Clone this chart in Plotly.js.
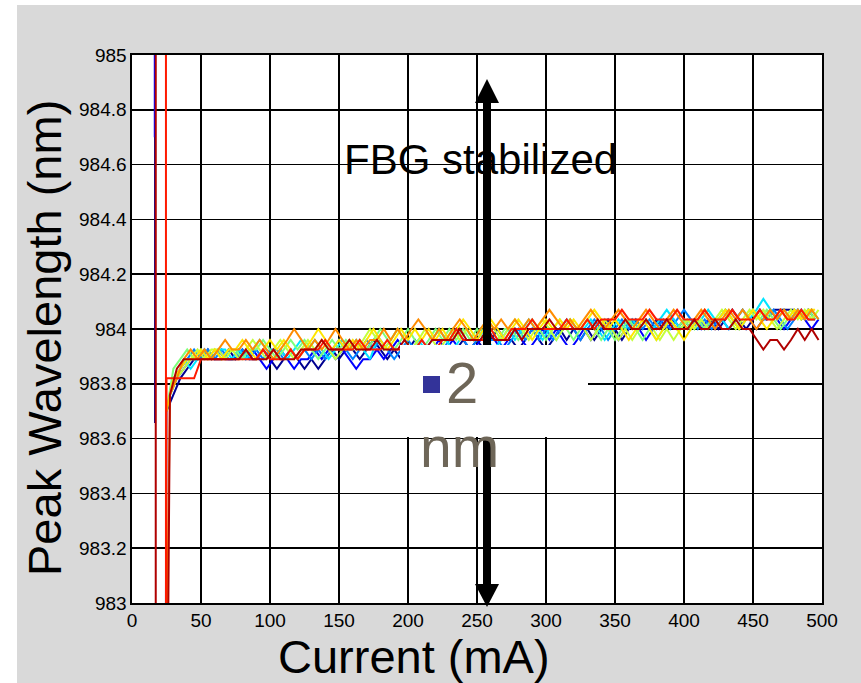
<!DOCTYPE html>
<html>
<head>
<meta charset="utf-8">
<script src="https://cdn.plot.ly/plotly-3.0.1.min.js"></script>
<style>
html,body{margin:0;padding:0;background:#ffffff;width:861px;height:683px;overflow:hidden;}
#chart{position:absolute;left:17px;top:5px;width:844px;height:678px;}
</style>
</head>
<body>
<div id="chart"></div>
<script>
// Drive current (mA): two sampling grids used by the different runs
const currentA = [25,30,35,40,45,50,55,60,65,70,75,80,85,90,95,100,105,110,115,120,125,130,135,140,145,150,155,160,165,170,175,180,185,190,195,200,205,210,215,220,225,230,235,240,245,250,255,260,265,270,275,280,285,290,295,300,305,310,315,320,325,330,335,340,345,350,355,360,365,370,375,380,385,390,395,400,405,410,415,420,425,430,435,440,445,450,455,460,465,470,475,480,485,490,495];
const currentB = [27.5,32.5,37.5,42.5,47.5,52.5,57.5,62.5,67.5,72.5,77.5,82.5,87.5,92.5,97.5,102.5,107.5,112.5,117.5,122.5,127.5,132.5,137.5,142.5,147.5,152.5,157.5,162.5,167.5,172.5,177.5,182.5,187.5,192.5,197.5,202.5,207.5,212.5,217.5,222.5,227.5,232.5,237.5,242.5,247.5,252.5,257.5,262.5,267.5,272.5,277.5,282.5,287.5,292.5,297.5,302.5,307.5,312.5,317.5,322.5,327.5,332.5,337.5,342.5,347.5,352.5,357.5,362.5,367.5,372.5,377.5,382.5,387.5,392.5,397.5,402.5,407.5,412.5,417.5,422.5,427.5,432.5,437.5,442.5,447.5,452.5,457.5,462.5,467.5,472.5,477.5,482.5,487.5,492.5,497.5];

// Below-threshold points of each series (current, wavelength)
const lead1X = [16.7,16.7,16.8], lead1Y = [986,983.657,null];
const lead2X = [16.5,16.5,16.6], lead2Y = [986,984.7,null];
const lead3X = [24.3], lead3Y = [982.5];
const lead8X = [24.4], lead8Y = [982.5];
const lead9X = [24.6,24.6], lead9Y = [986,982];
const lead10X = [17.2,17.2,24.8], lead10Y = [986,982,982];

// Peak wavelength (nm) of each series
const wl1 = [983.70,983.76,983.82,983.855,983.89,983.89,983.925,983.89,983.89,983.925,
983.89,983.925,983.89,983.89,983.925,983.89,983.855,983.89,983.925,983.89,
983.855,983.89,983.855,983.89,983.925,983.89,983.925,983.925,983.89,983.925,
983.96,983.925,983.89,983.925,983.89,983.925,983.96,983.925,983.89,983.89,
983.925,983.89,983.925,983.96,983.925,983.96,983.925,983.96,984.00,983.96,
983.96,983.925,983.96,984.00,983.96,983.925,983.96,984.00,983.96,984.00,
983.96,984.00,983.96,984.00,984.035,984.00,983.96,984.00,984.035,984.00,
984.00,984.035,984.00,984.035,984.00,984.035,984.00,984.035,984.00,984.035,
984.00,984.035,984.07,984.035,984.00,984.035,984.07,984.035,984.07,984.07,
984.07,984.07,984.035,984.07,984.035];
const wl2 = [983.76,983.82,983.855,983.89,983.89,983.925,983.89,983.925,983.89,983.89,
983.925,983.89,983.925,983.89,983.855,983.89,983.925,983.89,983.855,983.89,
983.89,983.925,983.89,983.925,983.89,983.925,983.89,983.855,983.89,983.89,
983.925,983.89,983.925,983.96,983.925,983.89,983.925,983.89,983.925,983.96,
983.925,983.96,983.925,983.89,983.925,983.96,984.00,983.96,983.925,983.96,
984.00,983.96,983.925,983.96,984.00,983.96,984.00,983.96,983.925,983.96,
984.00,983.96,984.00,984.035,984.00,983.96,984.00,984.035,984.00,983.96,
984.00,984.035,984.00,984.035,984.00,984.00,984.035,984.00,984.035,984.00,
984.035,984.00,984.035,984.07,984.035,984.00,984.035,984.07,984.035,984.00,
984.035,984.07,984.035,984.00,984.035];
const wl3 = [983.70,983.82,983.855,983.89,983.925,983.89,983.925,983.89,983.925,983.89,
983.89,983.925,983.89,983.925,983.89,983.925,983.925,983.89,983.925,983.89,
983.925,983.89,983.925,983.89,983.925,983.96,983.925,983.89,983.925,983.96,
983.925,983.96,983.925,983.89,983.925,983.96,983.925,983.96,983.925,983.89,
983.925,983.96,984.00,983.96,983.925,983.96,984.00,983.96,983.96,983.925,
983.96,984.00,983.96,984.00,983.96,984.00,983.96,984.00,984.035,984.00,
983.96,984.00,984.035,984.00,983.96,984.00,984.035,984.00,984.035,984.00,
984.035,984.00,984.035,984.00,984.035,984.07,984.035,984.00,984.035,984.00,
984.035,984.07,984.035,984.00,984.035,984.07,984.035,984.035,984.07,984.035,
984.00,984.035,984.07,984.035,984.035];
const wl4 = [983.76,983.82,983.89,983.855,983.89,983.925,983.89,983.925,983.925,983.89,
983.925,983.89,983.925,983.96,983.925,983.89,983.925,983.89,983.925,983.96,
983.925,983.96,983.925,983.89,983.925,983.96,983.925,983.96,983.925,983.89,
983.96,983.925,983.96,984.00,983.96,983.925,983.96,983.925,983.96,984.00,
983.96,983.925,983.96,984.00,983.96,984.00,983.96,983.925,983.96,984.00,
983.96,984.00,984.035,984.00,983.96,984.00,983.96,984.00,984.035,984.00,
984.00,984.035,984.00,983.96,984.00,984.035,984.00,984.035,984.00,984.035,
984.00,984.035,984.07,984.035,984.00,984.035,984.00,984.035,984.07,984.035,
984.035,984.00,984.035,984.07,984.035,984.07,984.11,984.07,984.035,984.07,
984.035,984.07,984.035,984.07,984.035];
const wl5 = [983.70,983.855,983.89,983.925,983.89,983.925,983.89,983.925,983.89,983.925,
983.925,983.89,983.925,983.925,983.96,983.925,983.89,983.925,983.96,983.925,
983.96,983.925,983.89,983.925,983.96,983.925,983.96,983.925,983.96,983.925,
983.96,984.00,983.96,983.925,983.96,984.00,983.96,983.925,983.96,984.00,
983.96,984.00,983.96,984.00,983.96,984.00,983.96,984.00,983.96,984.00,
984.00,983.96,984.00,984.035,984.00,983.96,984.00,984.035,984.00,983.96,
984.00,984.035,984.00,983.96,984.00,983.96,984.00,984.035,984.00,983.96,
984.00,983.96,984.00,984.035,984.00,984.035,984.00,984.035,984.00,984.035,
984.035,984.07,984.035,984.00,984.035,984.07,984.035,984.07,984.035,984.00,
984.035,984.07,984.035,984.07,984.035];
const wl6 = [983.76,983.82,983.855,983.89,983.925,983.89,983.925,983.925,983.89,983.925,
983.89,983.925,983.96,983.925,983.89,983.925,983.96,983.925,983.89,983.925,
983.96,983.925,983.96,983.925,983.89,983.925,983.96,983.925,983.96,984.00,
983.96,983.925,983.96,984.00,983.96,983.925,983.96,984.00,983.96,983.925,
983.96,984.00,983.96,984.00,983.96,984.00,984.035,984.00,983.96,984.00,
984.035,984.00,983.96,984.00,984.035,984.00,983.96,984.00,984.035,984.00,
984.00,983.96,984.00,984.035,984.00,983.96,984.00,983.96,984.00,984.035,
984.00,983.96,984.00,983.96,984.00,984.035,984.00,984.035,984.00,984.035,
984.07,984.035,984.00,984.035,984.07,984.035,984.07,984.035,984.00,984.035,
984.07,984.035,984.07,984.035,984.07];
const wl7 = [983.70,983.82,983.855,983.89,983.89,983.925,983.89,983.925,983.89,983.925,
983.925,983.96,983.925,983.89,983.925,983.96,983.925,983.96,983.925,983.89,
983.925,983.96,984.00,983.96,983.925,983.96,983.925,983.96,983.925,983.96,
984.00,983.96,983.925,983.96,984.00,983.96,984.00,983.96,984.00,983.96,
984.00,983.96,984.00,984.035,984.00,983.96,984.00,984.035,984.00,983.96,
984.00,984.035,984.00,983.96,984.00,984.035,984.00,984.035,984.00,984.035,
984.00,984.035,984.07,984.035,984.00,984.035,984.00,983.96,984.00,984.035,
984.00,983.96,984.00,984.035,984.00,983.96,984.00,984.035,984.07,984.035,
984.035,984.07,984.035,984.00,984.035,984.07,984.035,984.00,984.035,984.07,
984.035,984.07,984.035,984.07,984.07];
const wl8 = [983.76,983.82,983.89,983.925,983.89,983.925,983.89,983.925,983.96,983.925,
983.925,983.96,983.925,983.96,983.925,983.89,983.925,983.96,984.00,983.96,
983.925,983.96,983.925,983.96,984.00,983.96,983.925,983.96,983.925,983.96,
983.96,984.00,983.96,984.00,983.96,984.00,984.035,984.00,983.96,984.00,
983.96,984.00,984.035,984.00,983.96,984.00,984.035,984.00,984.035,984.00,
984.035,984.00,984.035,984.00,984.035,984.07,984.035,984.00,984.035,984.00,
984.035,984.07,984.035,984.00,984.035,984.07,984.035,984.00,984.035,984.07,
984.035,984.00,984.035,984.07,984.035,984.00,984.035,984.07,984.035,984.00,
984.035,984.07,984.035,984.07,984.035,984.00,984.035,984.07,984.035,984.07,
984.035,984.07,984.035,984.07,984.035];
const wl9 = [983.82,983.82,983.82,983.82,983.82,983.89,983.89,983.89,983.89,983.89,
983.89,983.89,983.89,983.89,983.925,983.89,983.89,983.89,983.925,983.89,
983.925,983.925,983.925,983.96,983.925,983.925,983.925,983.925,983.96,983.925,
983.925,983.925,983.96,983.925,983.925,983.925,983.925,983.96,983.925,983.925,
983.96,983.96,984.00,983.96,983.96,983.96,983.96,984.00,983.96,983.96,
984.00,984.00,984.00,984.035,984.00,984.00,984.00,984.00,984.035,984.00,
984.00,984.035,984.00,984.035,984.035,984.035,984.07,984.035,984.035,984.035,
984.07,984.035,984.035,984.035,984.07,984.035,984.035,984.035,984.07,984.035,
984.035,984.035,984.07,984.035,984.035,984.035,984.07,984.035,984.035,984.07,
984.035,984.035,984.07,984.035,984.035];
const wl10 = [983.76,983.855,983.89,983.89,983.89,983.89,983.89,983.89,983.89,983.89,
983.89,983.925,983.89,983.89,983.89,983.925,983.89,983.89,983.89,983.925,
983.925,983.925,983.96,983.925,983.925,983.925,983.96,983.925,983.925,983.925,
983.96,983.925,983.925,983.925,983.96,983.925,983.925,983.925,983.96,983.96,
983.96,983.96,984.00,983.96,983.96,983.96,984.00,983.96,983.96,983.96,
984.00,983.96,984.00,984.00,984.00,984.035,984.00,984.00,984.00,984.00,
984.00,984.00,984.035,984.00,984.00,984.00,984.035,984.00,984.00,984.035,
984.00,984.00,984.035,984.00,984.00,984.00,984.035,984.00,984.00,984.035,
984.00,984.00,984.035,984.00,984.00,983.96,983.925,983.96,983.96,983.925,
983.96,984.00,983.96,984.00,983.96];

const colors = ['#000090','#0000ff','#0080ff','#00e5ff','#7dff7a','#c4ff3a','#ffe600','#ff8c00','#ff1a00','#b00000'];

const series = [
  [lead1X, lead1Y, currentA, wl1],
  [lead2X, lead2Y, currentB, wl2],
  [lead3X, lead3Y, currentA, wl3],
  [[], [], currentB, wl4],
  [[], [], currentA, wl5],
  [[], [], currentB, wl6],
  [[], [], currentA, wl7],
  [lead8X, lead8Y, currentB, wl8],
  [lead9X, lead9Y, currentA, wl9],
  [lead10X, lead10Y, currentB, wl10]
];

const traces = series.map((s, i) => ({
  type: 'scatter',
  mode: 'lines',
  x: s[0].concat(s[2]),
  y: s[1].concat(s[3]),
  line: {color: colors[i], width: 2},
  hoverinfo: 'skip',
  showlegend: false
}));

const F = 'Liberation Sans, Arial, sans-serif';
const ax = (px) => (px - 132) / 690;          // page px -> x paper
const ay = (py) => (603 - py) / 548;          // page py -> y paper

const arrowX = ax(487);
const headW = 12 / 690;

const layout = {
  width: 844, height: 678,
  margin: {l: 115, r: 39, t: 50, b: 80, pad: 0},
  paper_bgcolor: '#d9d9d9',
  plot_bgcolor: '#ffffff',
  showlegend: false,
  font: {family: F, color: '#000000', size: 19},
  xaxis: {
    range: [0, 500], tick0: 0, dtick: 50, ticks: '',
    showgrid: true, gridcolor: '#000000', gridwidth: 1.6,
    zeroline: false, showline: true, linecolor: '#000000', linewidth: 1.6, mirror: true,
    tickfont: {family: F, size: 19, color: '#000000'}, fixedrange: true
  },
  yaxis: {
    range: [983, 985], tick0: 983, dtick: 0.2, ticks: '',
    showgrid: true, gridcolor: '#000000', gridwidth: 1.6,
    zeroline: false, showline: true, linecolor: '#000000', linewidth: 1.6, mirror: true,
    tickfont: {family: F, size: 19, color: '#000000'}, fixedrange: true
  },
  shapes: [
    {type: 'line', xref: 'paper', yref: 'paper', x0: arrowX, x1: arrowX, y0: ay(96), y1: ay(590),
     line: {color: '#000000', width: 8}, layer: 'above'},
    {type: 'path', xref: 'paper', yref: 'paper', layer: 'above', fillcolor: '#000000', line: {width: 0},
     path: 'M ' + arrowX + ',' + ay(79) + ' L ' + (arrowX + headW) + ',' + ay(103) + ' L ' + (arrowX - headW) + ',' + ay(103) + ' Z'},
    {type: 'path', xref: 'paper', yref: 'paper', layer: 'above', fillcolor: '#000000', line: {width: 0},
     path: 'M ' + arrowX + ',' + ay(607) + ' L ' + (arrowX + headW) + ',' + ay(584) + ' L ' + (arrowX - headW) + ',' + ay(584) + ' Z'},
    {type: 'rect', xref: 'paper', yref: 'paper', x0: ax(400), x1: ax(588), y0: ay(437), y1: ay(345),
     fillcolor: '#ffffff', line: {width: 0}, layer: 'above'},
    {type: 'rect', xref: 'paper', yref: 'paper', x0: ax(423), x1: ax(440), y0: ay(393), y1: ay(376),
     fillcolor: '#333399', line: {width: 0}, layer: 'above'}
  ],
  annotations: [
    {text: 'FBG stabilized', xref: 'paper', yref: 'paper', x: ax(480), y: ay(160),
     xanchor: 'center', yanchor: 'middle', showarrow: false,
     font: {family: F, size: 42, color: '#000000'}},
    {text: '2', xref: 'paper', yref: 'paper', x: ax(444), y: ay(383),
     xanchor: 'left', yanchor: 'middle', showarrow: false,
     font: {family: F, size: 58, color: '#6e6658'}},
    {text: 'nm', xref: 'paper', yref: 'paper', x: ax(418), y: ay(447),
     xanchor: 'left', yanchor: 'middle', showarrow: false,
     font: {family: F, size: 57, color: '#6e6658'}},
    {text: 'Current (mA)', xref: 'paper', yref: 'paper', x: ax(414), y: ay(656),
     xanchor: 'center', yanchor: 'middle', showarrow: false,
     font: {family: F, size: 47, color: '#000000'}},
    {text: 'Peak Wavelength (nm)', xref: 'paper', yref: 'paper', x: ax(44), y: ay(338),
     xanchor: 'center', yanchor: 'middle', textangle: -90, showarrow: false,
     font: {family: F, size: 47, color: '#000000'}}
  ]
};

Plotly.newPlot('chart', traces, layout, {displayModeBar: false, staticPlot: true});
</script>
</body>
</html>
